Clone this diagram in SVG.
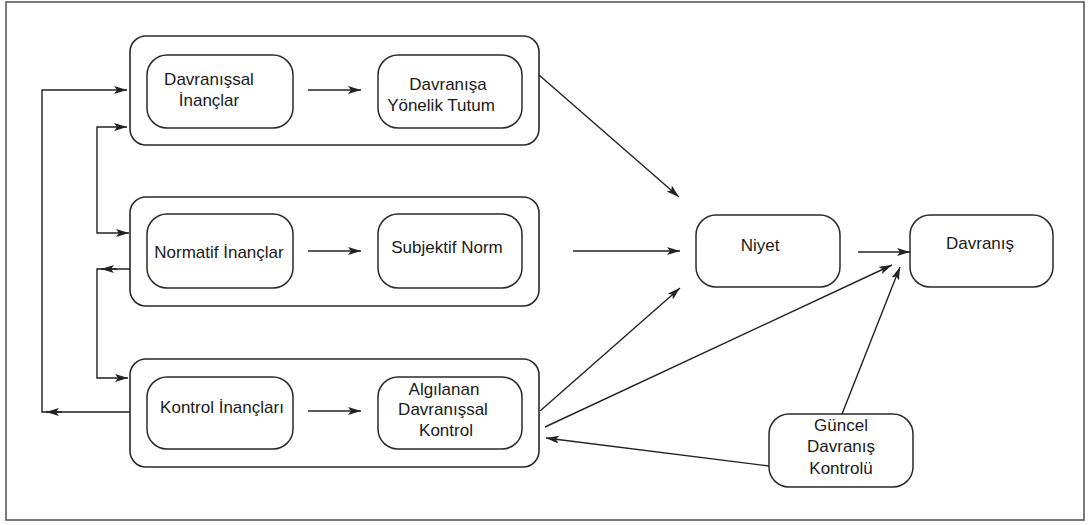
<svg xmlns="http://www.w3.org/2000/svg" width="1088" height="525" viewBox="0 0 1088 525">
  <defs>
    <marker id="arrow" markerUnits="userSpaceOnUse" markerWidth="16" markerHeight="10" refX="13" refY="4" orient="auto-start-reverse">
      <path d="M0,0 L13,4 L0,8 L3,4 z" fill="#222"/>
    </marker>
    <style>
      .frame { fill: #fff; stroke: #5a5a5a; stroke-width: 1.6; }
      .group { fill: none; stroke: #2a2a2a; stroke-width: 1.6; }
      .node { fill: #fff; stroke: #2a2a2a; stroke-width: 1.5; }
      .conn { fill: none; stroke: #222; stroke-width: 1.4; }
      text { font-family: "Liberation Sans", Arial, sans-serif; font-size: 17px; fill: #1a1a1a; text-anchor: middle; }
    </style>
  </defs>

  <rect class="frame" x="6" y="2" width="1078" height="518"/>

  <!-- Belief / evaluation groups -->
  <g id="group-davranissal">
    <rect class="group" x="130" y="36" width="409" height="109" rx="16"/>
  </g>
  <g id="group-normatif">
    <rect class="group" x="130" y="197" width="409" height="109" rx="16"/>
  </g>
  <g id="group-kontrol">
    <rect class="group" x="130" y="359" width="409" height="108" rx="16"/>
  </g>

  <!-- Nodes -->
  <g id="davranissal-inanclar">
    <rect class="node" x="147" y="55" width="146" height="73" rx="20"/>
    <text x="209" y="85">Davranışsal</text>
    <text x="209" y="106">İnançlar</text>
  </g>
  <g id="davranisa-yonelik-tutum">
    <rect class="node" x="378" y="55" width="144" height="73" rx="20"/>
    <text x="448" y="90">Davranışa</text>
    <text x="441" y="111">Yönelik Tutum</text>
  </g>
  <g id="normatif-inanclar">
    <rect class="node" x="147" y="214" width="146" height="74" rx="20"/>
    <text x="219" y="258">Normatif İnançlar</text>
  </g>
  <g id="subjektif-norm">
    <rect class="node" x="378" y="214" width="144" height="74" rx="20"/>
    <text x="447" y="253">Subjektif Norm</text>
  </g>
  <g id="kontrol-inanclari">
    <rect class="node" x="147" y="377" width="146" height="72" rx="20"/>
    <text x="222" y="413">Kontrol İnançları</text>
  </g>
  <g id="algilanan-davranissal-kontrol">
    <rect class="node" x="378" y="377" width="144" height="72" rx="20"/>
    <text x="444" y="395">Algılanan</text>
    <text x="443" y="415">Davranışsal</text>
    <text x="446" y="436">Kontrol</text>
  </g>
  <g id="niyet">
    <rect class="node" x="696" y="215" width="144" height="72" rx="20"/>
    <text x="760" y="251">Niyet</text>
  </g>
  <g id="davranis">
    <rect class="node" x="910" y="215" width="143" height="72" rx="20"/>
    <text x="980" y="249">Davranış</text>
  </g>
  <g id="guncel-davranis-kontrolu">
    <rect class="node" x="769" y="414" width="144" height="73" rx="20"/>
    <text x="841" y="431">Güncel</text>
    <text x="841" y="452">Davranış</text>
    <text x="841" y="474">Kontrolü</text>
  </g>

  <!-- Connectors -->
  <g id="connectors">
    <line class="conn" x1="308" y1="90" x2="361" y2="90" marker-end="url(#arrow)"/>
    <line class="conn" x1="308" y1="251" x2="361" y2="251" marker-end="url(#arrow)"/>
    <line class="conn" x1="308" y1="411" x2="361" y2="411" marker-end="url(#arrow)"/>

    <!-- feedback loops on the left -->
    <polyline class="conn" points="130,412 42,412 42,90 127,90" marker-end="url(#arrow)"/>
    <line class="conn" x1="62" y1="412" x2="46" y2="412" marker-end="url(#arrow)"/>
    <polyline class="conn" points="127,127 97,127 97,233 129,233" marker-start="url(#arrow)" marker-end="url(#arrow)"/>
    <polyline class="conn" points="130,269 97,269 97,378 128,378" marker-end="url(#arrow)"/>
    <line class="conn" x1="117" y1="269" x2="101" y2="269" marker-end="url(#arrow)"/>

    <!-- towards intention and behaviour -->
    <line class="conn" x1="539" y1="75" x2="679" y2="197" marker-end="url(#arrow)"/>
    <line class="conn" x1="573" y1="251" x2="680" y2="251" marker-end="url(#arrow)"/>
    <line class="conn" x1="540" y1="411" x2="680" y2="288" marker-end="url(#arrow)"/>
    <line class="conn" x1="545" y1="427" x2="892" y2="265" marker-end="url(#arrow)"/>
    <line class="conn" x1="858" y1="252" x2="910" y2="252" marker-end="url(#arrow)"/>
    <line class="conn" x1="842" y1="414" x2="900" y2="267" marker-end="url(#arrow)"/>
    <line class="conn" x1="769" y1="466" x2="546" y2="438" marker-end="url(#arrow)"/>
  </g>
</svg>
